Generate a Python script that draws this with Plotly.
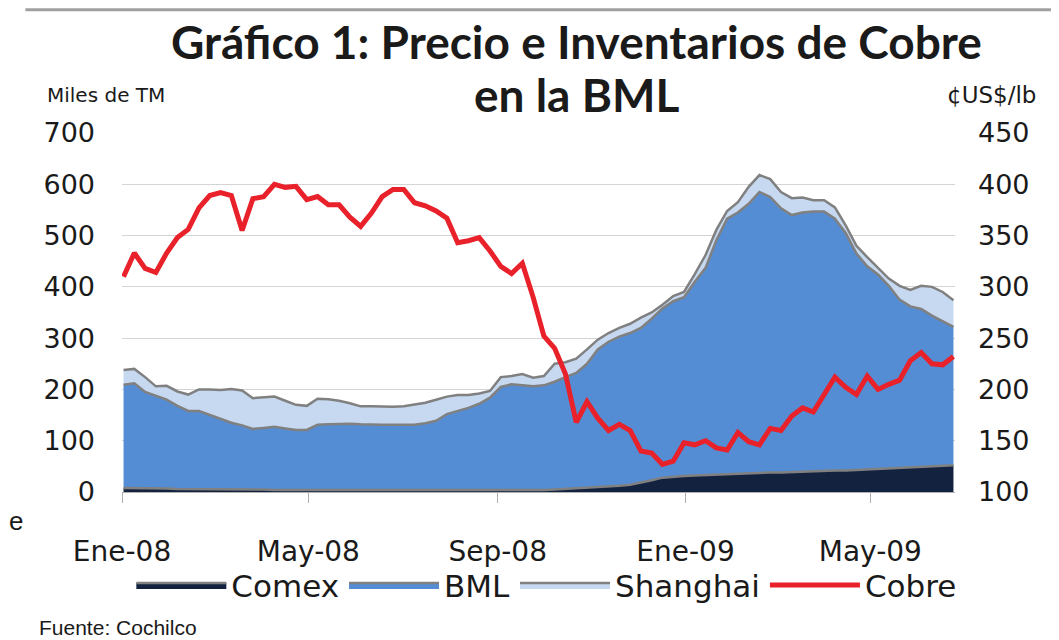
import plotly.graph_objects as go
import pandas as pd

# weekly observations, Jan 2008 - Jun 2009
fechas = pd.date_range("2008-01-02", periods=78, freq="7D")

# inventories, thousands of MT
comex = [8, 8, 7, 7, 7, 6, 6, 6, 5, 5, 5, 5, 5, 5, 4, 4, 4, 4, 4, 4,
         4, 4, 4, 4, 4, 4, 4, 4, 3, 3, 3, 3, 3, 3, 3, 3, 3, 3, 4, 4,
         5, 6, 7, 8, 9, 10, 12, 14, 18, 23, 28, 30, 31, 32, 33, 34, 35, 36, 37, 37,
         38, 38, 39, 40, 40, 41, 42, 42, 43, 44, 45, 46, 48, 49, 50, 51, 52, 52]
bml = [201, 204, 188, 181, 173, 162, 152, 152, 145, 137, 130, 125, 118, 120, 123, 120, 117, 117, 127, 128,
       129, 129, 128, 127, 127, 127, 127, 127, 131, 136, 149, 155, 161, 169, 181, 202, 207, 205, 202, 204,
       210, 218, 225, 242, 269, 283, 291, 296, 302, 315, 330, 342, 349, 378, 404, 457, 498, 509, 525, 548,
       537, 515, 501, 505, 507, 506, 491, 463, 422, 396, 379, 356, 327, 313, 307, 293, 281, 270]
shanghai = [29, 28, 29, 18, 27, 28, 32, 42, 50, 57, 66, 68, 60, 59, 59, 54, 49, 47, 51, 49,
            45, 40, 35, 36, 35, 35, 36, 39, 40, 41, 34, 31, 25, 20, 13, 19, 16, 22, 17, 18,
            35, 29, 28, 28, 19, 17, 17, 18, 20, 12, 7, 10, 10, 15, 25, 20, 15, 20, 33, 33,
            35, 32, 33, 29, 22, 22, 22, 15, 15, 18, 12, 14, 27, 32, 45, 56, 57, 52]

# copper price, US cents per lb
cobre = [310, 333, 318, 314, 333, 348, 356, 377, 389, 392, 389, 355, 386, 388, 400, 397, 398, 385, 388, 380,
         380, 368, 359, 372, 388, 395, 395, 382, 379, 374, 367, 343, 345, 348, 335, 320, 313, 323, 290, 252,
         240, 215, 168, 188, 172, 160, 166, 160, 140, 138, 127, 130, 148, 146, 150, 143, 141, 158, 149, 146,
         162, 160, 174, 182, 178, 196, 212, 202, 195, 213, 200, 205, 209, 228, 236, 225, 224, 232]

tick_fechas = ["2008-01-01", "2008-05-01", "2008-09-01", "2009-01-01", "2009-05-01"]
tick_textos = ["Ene-08", "May-08", "Sep-08", "Ene-09", "May-09"]

FONT = "'DejaVu Sans', sans-serif"
TITLE_FONT = "Lato, 'Noto Sans', sans-serif"
GRIS = "#808080"

fig = go.Figure()

series = [("Comex", comex, "#13233f"), ("BML", bml, "#548dd4"), ("Shanghai", shanghai, "#c6d9f1")]
for nombre, vals, color in series:
    fig.add_trace(go.Scatter(
        x=fechas, y=vals, name=nombre, mode="lines", stackgroup="inv",
        line=dict(color=GRIS, width=2.5), fillcolor=color,
    ))

fig.add_trace(go.Scatter(
    x=fechas, y=cobre, name="Cobre", mode="lines", yaxis="y2",
    line=dict(color="#e8212a", width=5),
))

# page body adds an 8px offset, so the figure is 8px smaller on each side
fig.update_layout(
    width=1051, height=632,
    margin=dict(l=114, r=104, t=125, b=148, autoexpand=False),
    paper_bgcolor="white", plot_bgcolor="white",
    font=dict(family=FONT, size=27, color="#1a1a1a"),
    showlegend=True,
    legend=dict(orientation="h", x=0.51, xanchor="center", y=-0.26, yanchor="middle",
                traceorder="normal", font=dict(size=31), itemwidth=90,
                bgcolor="rgba(0,0,0,0)"),
    xaxis=dict(
        range=["2008-01-01", "2009-06-25"], tickvals=tick_fechas, ticktext=tick_textos,
        ticks="outside", ticklen=10, tickcolor="#b0b0b0", ticklabelstandoff=24,
        tickfont=dict(size=28),
        showgrid=False, showline=True, linecolor="#b0b0b0", linewidth=1,
    ),
    yaxis=dict(
        range=[0, 700], dtick=100, showgrid=True, gridcolor="#d4d4d4", gridwidth=1,
        zeroline=False, ticks="", ticklabelstandoff=26,
    ),
    yaxis2=dict(
        range=[100, 450], dtick=50, overlaying="y", side="right",
        showgrid=False, zeroline=False, ticklabelstandoff=22,
    ),
    annotations=[
        dict(text="<b>Gráfico 1: Precio e Inventarios de Cobre</b>", xref="paper", yref="paper",
             x=0.546, y=1.254, xanchor="center", yanchor="middle", showarrow=False,
             font=dict(family=TITLE_FONT, size=46, color="#1a1a1a")),
        dict(text="<b>en la BML</b>", xref="paper", yref="paper",
             x=0.546, y=1.107, xanchor="center", yanchor="middle", showarrow=False,
             font=dict(family=TITLE_FONT, size=46, color="#1a1a1a")),
        dict(text="Miles de TM", xref="paper", yref="paper", x=-0.093, y=1.107,
             xanchor="left", yanchor="middle", showarrow=False, font=dict(size=20)),
        dict(text="¢US$/lb", xref="paper", yref="paper", x=1.1, y=1.107,
             xanchor="right", yanchor="middle", showarrow=False, font=dict(size=23)),
        dict(text="Fuente: Cochilco", xref="paper", yref="paper", x=-0.102, y=-0.378,
             xanchor="left", yanchor="middle", showarrow=False,
             font=dict(family="Liberation Sans, Arial", size=21)),
        dict(text="e", xref="paper", yref="paper", x=-0.138, y=-0.08,
             xanchor="left", yanchor="middle", showarrow=False,
             font=dict(family="Liberation Sans, Arial", size=26)),
    ],
    shapes=[dict(type="line", xref="paper", yref="paper", x0=-0.116, x1=1.13, y0=1.343, y1=1.343,
                 line=dict(color="#a0a0a0", width=3))],
)

fig.write_html("out.html")
